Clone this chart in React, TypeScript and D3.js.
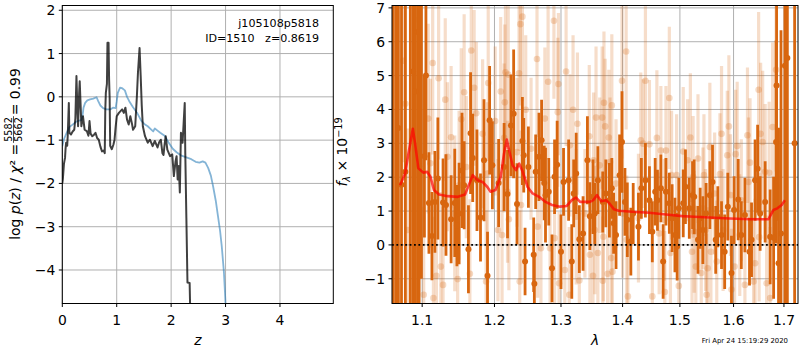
import React, { useEffect, useRef } from "react";
import * as d3 from "d3";

// ---- left panel: p(z) and chi2 curves ----
const pzZ = [0, 0.03, 0.08, 0.13, 0.2, 0.26, 0.31, 0.35, 0.37, 0.39, 0.42, 0.46, 0.51, 0.57, 0.63, 0.66, 0.7, 0.75, 0.81, 0.88, 0.93, 0.98, 1.0, 1.02, 1.06, 1.1, 1.15, 1.19, 1.23, 1.3, 1.38, 1.45, 1.52, 1.57, 1.62, 1.67, 1.7, 1.75, 1.8, 1.88, 1.95, 2.03, 2.1, 2.19, 2.28, 2.37, 2.45, 2.52, 2.58, 2.63, 2.68, 2.73, 2.77, 2.82, 2.86, 2.9, 2.93, 2.97, 3.0, 3.03];
const pzLog = [-1.14, -0.98, -0.83, -0.7, -0.63, -0.57, -0.55, -0.54, -0.45, -0.25, -0.14, -0.08, -0.06, -0.04, -0.01, -0.1, -0.2, -0.26, -0.29, -0.29, -0.25, -0.26, -0.1, 0.09, 0.21, 0.2, 0.15, 0.0, -0.1, -0.24, -0.38, -0.55, -0.64, -0.68, -0.74, -0.8, -0.73, -0.78, -0.83, -0.9, -1.05, -1.2, -1.28, -1.36, -1.4, -1.44, -1.5, -1.52, -1.49, -1.52, -1.64, -1.82, -2.06, -2.4, -2.75, -3.1, -3.45, -4.05, -4.78, -5.3];

const chiZ = [0, 0.01, 0.03, 0.05, 0.06, 0.07, 0.09, 0.1, 0.12, 0.13, 0.16, 0.19, 0.22, 0.24, 0.26, 0.28, 0.29, 0.31, 0.32, 0.34, 0.35, 0.38, 0.41, 0.45, 0.48, 0.5, 0.52, 0.55, 0.58, 0.61, 0.64, 0.67, 0.7, 0.73, 0.76, 0.78, 0.79, 0.8, 0.82, 0.83, 0.85, 0.86, 0.87, 0.88, 0.91, 0.94, 0.96, 0.98, 1.0, 1.04, 1.07, 1.1, 1.13, 1.16, 1.19, 1.22, 1.25, 1.28, 1.3, 1.34, 1.37, 1.39, 1.42, 1.44, 1.46, 1.48, 1.52, 1.57, 1.61, 1.66, 1.7, 1.75, 1.78, 1.81, 1.84, 1.86, 1.88, 1.9, 1.93, 1.98, 2.02, 2.05, 2.08, 2.1, 2.12, 2.14, 2.16, 2.18, 2.21, 2.23, 2.25, 2.26, 2.28, 2.3, 2.34, 2.36];
const chiLog = [-2.0, -1.9, -1.55, -1.41, -1.2, -1.06, -1.13, -0.9, -0.14, -0.83, -0.87, -0.8, -0.76, -0.5, 0.48, -0.4, -0.68, 0.1, 0.36, -0.3, -0.68, -0.45, -0.76, -0.79, -0.9, -0.56, -0.85, -0.91, -0.88, -0.83, -0.95, -0.99, -1.15, -1.26, -1.24, -1.3, -0.3, 0.09, 0.3, 1.25, 1.25, 0.4, -0.02, -1.13, -1.21, -1.1, -0.99, -0.7, -0.45, -0.37, -0.33, -0.29, -0.37, -0.25, -0.53, -0.64, -0.45, -0.62, -0.76, -0.68, 0.0, 0.55, 1.13, 0.5, -0.2, -0.68, -0.91, -1.06, -0.99, -1.14, -1.02, -1.17, -1.05, -0.99, -1.3, -1.34, -1.1, -0.91, -1.22, -1.37, -1.33, -1.83, -1.5, -1.37, -1.91, -1.6, -2.21, -0.83, -1.06, -0.6, -0.14, -1.3, -2.8, -4.29, -4.3, -5.5];

const zTicks = [0, 1, 2, 3, 4];
const logTicks = [-4, -3, -2, -1, 0, 1, 2];

// ---- right panel: spectrum ----
const darkWave = [1.0625, 1.066, 1.069, 1.073, 1.078, 1.0845, 1.088, 1.091, 1.094, 1.096, 1.099, 1.103, 1.105, 1.109, 1.113, 1.117, 1.121, 1.128, 1.132, 1.139, 1.144, 1.147, 1.15, 1.154, 1.157, 1.163, 1.166, 1.169, 1.175, 1.18, 1.185, 1.19, 1.193, 1.197, 1.206, 1.214, 1.219, 1.224, 1.228, 1.233, 1.241, 1.243, 1.245, 1.25, 1.258, 1.259, 1.261, 1.266, 1.27, 1.274, 1.276, 1.281, 1.286, 1.29, 1.294, 1.3, 1.304, 1.312, 1.317, 1.32, 1.324, 1.329, 1.335, 1.342, 1.346, 1.351, 1.354, 1.359, 1.367, 1.372, 1.378, 1.382, 1.385, 1.389, 1.395, 1.399, 1.404, 1.408, 1.414, 1.418, 1.427, 1.432, 1.439, 1.446, 1.451, 1.456, 1.46, 1.466, 1.47, 1.475, 1.481, 1.486, 1.491, 1.495, 1.498, 1.506, 1.51, 1.517, 1.523, 1.526, 1.533, 1.537, 1.542, 1.548, 1.555, 1.56, 1.566, 1.57, 1.577, 1.583, 1.589, 1.596, 1.601, 1.609, 1.615, 1.622, 1.631, 1.635, 1.642, 1.647, 1.652, 1.662, 1.672, 1.679, 1.684, 1.685, 1.689, 1.694, 1.702, 1.707, 1.722];
const darkFlux = [7.5, -2.5, 3.45, 1.78, 2.16, 8.2, 5.12, 4.53, 6.29, 2.32, 9.0, 2.62, 5.0, 1.24, 0.26, 1.27, 1.96, 1.25, 1.18, 0.76, 1.24, 0.57, 0.93, 2.2, 1.76, -0.13, 3.3, 2.57, 1.91, 0.81, 2.5, -0.91, 3.68, 2.35, 1.83, 2.3, 1.5, 3.53, 3.87, 1.21, 3.07, 2.65, -0.49, 2.3, -0.29, -1.15, 2.16, 2.6, 3.09, 1.83, 1.47, 1.57, -0.69, 2.01, 2.37, -0.2, 1.86, 1.91, -0.49, 1.52, 2.11, 0.17, 0.34, 2.5, 0.85, 1.42, 0.93, 1.91, 1.27, 1.52, 1.32, 1.67, 0.64, 0.29, 2.06, 3.04, 1.27, 0.74, 0.1, 0.93, 0.54, 1.67, 1.91, 1.32, 0.39, 1.57, 1.32, 1.67, -0.49, 1.57, 1.23, 0.79, 0.29, -0.05, 1.08, 1.23, 1.72, 1.08, 1.47, 1.42, 0.15, 0.79, 0.44, 0.93, 1.47, 1.86, 0.15, 0.83, 0.29, -0.2, 1.13, -0.83, 1.03, 1.34, 0.29, 0.88, -0.2, 0.15, 1.91, 2.25, 0.93, 1.27, 0.24, 0.21, 3.04, 4.71, -0.54, 0.34, 5.29, 5.52, 3.0];
const darkErr = [12, 10, 9, 9, 9, 12, 9, 9, 9, 6,
    10, 2.4, 2.5, 1.5, 1.3, 1.5, 1.8, 1.3, 1.5, 1.3,
    1.6, 1.2, 1.5, 1.7, 1.3, 1.3, 1.8, 1.3, 1.5, 1.3,
    1.8, 1.3, 1.6, 1.3, 1.3, 1.3, 1.3, 1.5, 1.9, 1.2,
    1.3, 1.1, 1.0, 1.2, 1.1, 0.9, 1.1, 1.3, 1.2, 1.1,
    1.4, 1.0, 1.0, 1.1, 1.3, 1.1, 1.0, 1.2, 1.1, 1.0,
    1.2, 1.0, 1.1, 1.3, 1.0, 1.1, 0.9, 1.0, 0.9, 1.0,
    1.1, 0.9, 0.9, 1.0, 1.2, 1.5, 1.0, 1.1, 1.0, 0.9,
    1.0, 0.9, 1.1, 1.0, 0.9, 1.0, 0.9, 1.0, 1.1, 1.0,
    0.9, 1.0, 1.1, 1.0, 0.9, 1.0, 1.1, 0.9, 1.0, 1.1,
    1.0, 0.9, 1.0, 0.9, 1.0, 1.1, 1.0, 0.9, 1.0, 1.1,
    1.0, 1.1, 1.0, 1.2, 1.0, 1.1, 1.0, 1.1, 1.2, 1.3,
    1.1, 1.2, 1.4, 1.8, 3.0, 4.0, 4.0, 6.0, 9, 9,
    9];

const lightWave = [1.075, 1.078, 1.081, 1.095, 1.102, 1.108, 1.111, 1.114, 1.115, 1.119, 1.122, 1.125, 1.128, 1.131, 1.134, 1.139, 1.144, 1.148, 1.15, 1.153, 1.157, 1.16, 1.165, 1.167, 1.171, 1.174, 1.183, 1.188, 1.19, 1.191, 1.201, 1.205, 1.209, 1.211, 1.214, 1.215, 1.216, 1.219, 1.22, 1.221, 1.233, 1.236, 1.237, 1.238, 1.239, 1.241, 1.246, 1.254, 1.263, 1.264, 1.269, 1.275, 1.28, 1.283, 1.289, 1.29, 1.295, 1.296, 1.297, 1.306, 1.308, 1.313, 1.314, 1.319, 1.324, 1.326, 1.329, 1.338, 1.345, 1.346, 1.351, 1.352, 1.354, 1.356, 1.359, 1.362, 1.366, 1.367, 1.368, 1.369, 1.371, 1.375, 1.377, 1.379, 1.381, 1.382, 1.383, 1.389, 1.399, 1.4, 1.406, 1.407, 1.409, 1.427, 1.431, 1.435, 1.439, 1.446, 1.451, 1.459, 1.463, 1.466, 1.472, 1.473, 1.475, 1.481, 1.483, 1.485, 1.494, 1.498, 1.506, 1.514, 1.519, 1.522, 1.524, 1.526, 1.529, 1.533, 1.539, 1.542, 1.544, 1.547, 1.549, 1.551, 1.555, 1.557, 1.564, 1.568, 1.574, 1.577, 1.58, 1.588, 1.591, 1.594, 1.596, 1.602, 1.604, 1.607, 1.612, 1.615, 1.622, 1.627, 1.629, 1.632, 1.639, 1.642, 1.649, 1.65, 1.653, 1.657, 1.662, 1.665, 1.67, 1.672, 1.677, 1.684];
const lightFlux = [5.44, 4.17, 0.44, 6.65, -1.47, 3.73, 2.41, 5.37, -1.57, -0.91, 4.92, -0.64, -1.18, 4.29, 2.6, 3.18, 0.93, -1.01, 1.76, 3.71, 4.51, 2.3, -0.85, 5.74, 4.64, 3.89, 3.28, -1.08, 2.11, 4.78, 3.66, 0.44, 4.53, 0.29, 3.16, 4.21, 5.1, 1.57, 5.03, 0.76, 2.74, 5.07, -1.08, 6.52, 1.18, 6.74, 3.99, 2.84, 5.49, 0.54, -0.1, 3.73, 4.82, -0.1, 6.62, 0.2, 3.92, 4.75, -1.13, -0.74, 5.12, -1.47, 2.94, 3.99, 0.83, 3.58, -1.05, 0.93, 3.21, -0.29, -0.91, 2.5, 0.44, 3.76, -0.24, 2.35, 3.76, -1.06, 0.24, 4.2, 3.5, -0.85, 3.17, 2.45, -0.39, 4.12, -0.79, 1.81, 4.85, 0.93, 5.71, 0.15, -1.52, 0.79, 3.09, 2.99, 4.85, 2.97, -1.52, 3.16, 0.34, 2.79, 0.74, -1.39, 2.79, 4.34, -0.24, 2.06, 2.06, -1.21, 2.76, 2.5, 3.17, -0.2, 2.01, 0.39, -0.64, 2.55, -0.83, 1.08, 2.06, 0.44, -1.47, -0.69, 2.89, -0.2, 1.52, -0.49, 2.09, 3.28, 0.44, 2.65, 3.5, 1.47, -1.32, -0.64, 2.68, 2.92, 0.29, 1.32, -1.18, 3.24, 1.86, 2.43, -1.08, -0.54, 4.58, 0.23, 3.28, 3.04, 2.16, -1.13, 2.13, -1.57, 3.48, 5.17];
const lightErr = [3.0, 3.2, 3.0, 3.0, 2.6, 2.8, 2.5, 2.7, 2.4, 2.5, 2.4, 2.2, 2.3, 2.4, 2.2, 2.1, 2.3, 2.1, 2.2, 2.1, 2.3, 2.1, 2.2, 2.1, 2.3, 2.1, 2.2, 2.1, 2.1, 2.3, 2.2, 2.1, 2.2, 2.1, 2.2, 2.3, 2.2, 2.1, 2.2, 2.1, 2.2, 2.3, 2.1, 2.4, 2.2, 2.5, 2.2, 2.1, 2.3, 2.1, 2.2, 2.1, 2.3, 2.1, 2.3, 2.1, 2.2, 2.1, 2.1, 2.0, 2.2, 2.0, 2.1, 2.2, 2.0, 2.1, 2.0, 1.9, 2.1, 1.9, 1.9, 2.0, 1.9, 2.1, 1.9, 2.0, 2.1, 1.9, 1.9, 2.1, 2.0, 1.9, 2.0, 1.9, 1.9, 2.1, 1.8, 1.9, 2.3, 1.9, 2.3, 1.9, 1.8, 1.9, 2.0, 1.9, 2.2, 1.9, 1.8, 2.0, 1.8, 1.9, 1.8, 1.8, 1.9, 2.1, 1.8, 1.9, 1.8, 1.8, 1.9, 1.8, 1.9, 1.8, 1.8, 1.8, 1.8, 1.9, 1.8, 1.8, 1.8, 1.8, 1.8, 1.8, 1.9, 1.8, 1.8, 1.8, 1.8, 2.0, 1.8, 1.9, 2.1, 1.8, 1.8, 1.8, 1.9, 1.9, 1.8, 1.8, 1.9, 2.0, 1.9, 1.9, 1.9, 1.9, 2.3, 1.9, 2.1, 2.1, 2.0, 2.0, 2.1, 2.1, 2.5, 3.0];

const modelWave = [1.0712, 1.0777, 1.082, 1.0877, 1.0907, 1.095, 1.1018, 1.1065, 1.1111, 1.1157, 1.1226, 1.1343, 1.1482, 1.1583, 1.1643, 1.169, 1.1759, 1.1829, 1.1898, 1.1944, 1.2015, 1.209, 1.2139, 1.2179, 1.2214, 1.2264, 1.2314, 1.2363, 1.2414, 1.2488, 1.2563, 1.2662, 1.2761, 1.2861, 1.2985, 1.309, 1.317, 1.3238, 1.3302, 1.3381, 1.346, 1.3513, 1.3576, 1.3646, 1.3725, 1.3778, 1.3857, 1.3936, 1.4163, 1.4456, 1.4749, 1.5043, 1.5264, 1.5547, 1.5925, 1.632, 1.6686, 1.6786, 1.6866, 1.6954, 1.702];
const modelFlux = [1.76, 2.11, 2.7, 3.43, 2.99, 2.26, 2.13, 2.16, 2.01, 1.62, 1.49, 1.44, 1.42, 1.49, 1.81, 2.06, 1.91, 1.86, 1.71, 1.57, 1.62, 2.01, 2.7, 3.11, 2.79, 2.35, 2.21, 2.4, 2.16, 1.71, 1.52, 1.42, 1.27, 1.18, 1.13, 1.15, 1.32, 1.4, 1.27, 1.27, 1.27, 1.32, 1.47, 1.29, 1.32, 1.23, 1.05, 1.01, 0.98, 0.95, 0.9, 0.85, 0.83, 0.81, 0.78, 0.76, 0.76, 1.03, 1.08, 1.18, 1.32];

const waveTicks = [1.1, 1.2, 1.3, 1.4, 1.5, 1.6, 1.7];
const fluxTicks = [-1, 0, 1, 2, 3, 4, 5, 6, 7];

const FONT = "DejaVu Sans, sans-serif";
const ORANGE = "#d8660f";
const fmt = (t: number) => (t < 0 ? "\u2212" + Math.abs(t) : String(t));

function axesFrame(g: any, x: any, y: any, xt: number[], yt: number[], box: any) {
    g.append("g").selectAll("line").data(xt).join("line")
        .attr("x1", (d: number) => x(d)).attr("x2", (d: number) => x(d))
        .attr("y1", box.y0).attr("y2", box.y1)
        .attr("stroke", "#b0b0b0").attr("stroke-width", 1);
    g.append("g").selectAll("line").data(yt).join("line")
        .attr("x1", box.x0).attr("x2", box.x1)
        .attr("y1", (d: number) => y(d)).attr("y2", (d: number) => y(d))
        .attr("stroke", "#b0b0b0").attr("stroke-width", 1);
}

function axesDecor(g: any, x: any, y: any, xt: number[], yt: number[], xf: (t: number) => string, box: any) {
    g.append("rect").attr("x", box.x0).attr("y", box.y0)
        .attr("width", box.x1 - box.x0).attr("height", box.y1 - box.y0)
        .attr("fill", "none").attr("stroke", "black").attr("stroke-width", 1);
    const bt = g.append("g");
    xt.forEach((t) => {
        bt.append("line").attr("x1", x(t)).attr("x2", x(t)).attr("y1", box.y1).attr("y2", box.y1 + 3.5)
            .attr("stroke", "black").attr("stroke-width", 1);
        bt.append("text").attr("x", x(t)).attr("y", box.y1 + 21.5).attr("text-anchor", "middle")
            .attr("font-family", FONT).attr("font-size", 13.9).text(xf(t));
    });
    yt.forEach((t) => {
        bt.append("line").attr("x1", box.x0 - 3.5).attr("x2", box.x0).attr("y1", y(t)).attr("y2", y(t))
            .attr("stroke", "black").attr("stroke-width", 1);
        bt.append("text").attr("x", box.x0 - 7).attr("y", y(t) + 5).attr("text-anchor", "end")
            .attr("font-family", FONT).attr("font-size", 13.9).text(fmt(t));
    });
}

function draw(node: SVGSVGElement) {
    const svg = d3.select(node);
    svg.selectAll("*").remove();
    svg.append("rect").attr("width", 800).attr("height", 350).attr("fill", "white");

    const defs = svg.append("defs");
    const L = { x0: 62.3, x1: 333.3, y0: 5.5, y1: 303.5 };
    const R = { x0: 392, x1: 798, y0: 5.5, y1: 303.5 };
    defs.append("clipPath").attr("id", "clipL").append("rect")
        .attr("x", L.x0).attr("y", L.y0).attr("width", L.x1 - L.x0).attr("height", L.y1 - L.y0);
    defs.append("clipPath").attr("id", "clipR").append("rect")
        .attr("x", R.x0).attr("y", R.y0).attr("width", R.x1 - R.x0).attr("height", R.y1 - R.y0);

    // left panel
    const xz = d3.scaleLinear().domain([0, 4.98]).range([L.x0, L.x1]);
    const yl = d3.scaleLinear().domain([-4.774, 2.11]).range([L.y1, L.y0]);
    const gl = svg.append("g");
    axesFrame(gl, xz, yl, zTicks, logTicks, L);
    const line = d3.line<[number, number]>().x((d) => xz(d[0])).y((d) => yl(d[1]));
    const pl = gl.append("g").attr("clip-path", "url(#clipL)");
    pl.append("path").attr("d", line(pzZ.map((z, i) => [z, pzLog[i]]) as any))
        .attr("fill", "none").attr("stroke", "#1f77b4").attr("stroke-opacity", 0.55)
        .attr("stroke-width", 1.8).attr("stroke-linejoin", "round");
    pl.append("path").attr("d", line(chiZ.map((z, i) => [z, chiLog[i]]) as any))
        .attr("fill", "none").attr("stroke", "black").attr("stroke-opacity", 0.75)
        .attr("stroke-width", 2).attr("stroke-linejoin", "round");
    axesDecor(gl, xz, yl, zTicks, logTicks, String, L);

    const ann = gl.append("g").attr("font-family", FONT).attr("font-size", 11.1)
        .attr("text-anchor", "end");
    ann.append("text").attr("x", 319).attr("y", 26.5).text("j105108p5818");
    ann.append("text").attr("x", 319).attr("y", 41.5).text("ID=1510\u00a0\u00a0\u00a0z=0.8619");

    // right panel
    const xw = d3.scaleLog().domain([1.0608, 1.729]).range([R.x0, R.x1]);
    const yf = d3.scaleLinear().domain([-1.73, 7.07]).range([R.y1, R.y0]);
    const gr = svg.append("g");
    axesFrame(gr, xw, yf, waveTicks, fluxTicks, R);
    const pr = gr.append("g").attr("clip-path", "url(#clipR)");

    const light = lightWave.map((w, i) => ({ w, f: lightFlux[i], e: lightErr[i] }));
    const dark = darkWave.map((w, i) => ({ w, f: darkFlux[i], e: darkErr[i] }));

    pr.append("g").selectAll("line").data(light).join("line")
        .attr("x1", (d) => xw(d.w)).attr("x2", (d) => xw(d.w))
        .attr("y1", (d) => yf(d.f - d.e)).attr("y2", (d) => yf(d.f + d.e))
        .attr("stroke", ORANGE).attr("stroke-opacity", 0.22).attr("stroke-width", 3.2);
    pr.append("g").selectAll("circle").data(light).join("circle")
        .attr("cx", (d) => xw(d.w)).attr("cy", (d) => yf(d.f)).attr("r", 3.3)
        .attr("fill", ORANGE).attr("fill-opacity", 0.25);

    pr.append("g").selectAll("line").data(dark).join("line")
        .attr("x1", (d) => xw(d.w)).attr("x2", (d) => xw(d.w))
        .attr("y1", (d) => yf(d.f - d.e)).attr("y2", (d) => yf(d.f + d.e))
        .attr("stroke", ORANGE).attr("stroke-width", 2.8);
    pr.append("g").selectAll("circle").data(dark).join("circle")
        .attr("cx", (d) => xw(d.w)).attr("cy", (d) => yf(d.f)).attr("r", 3)
        .attr("fill", ORANGE);

    const mline = d3.line<number>().x((d, i) => xw(modelWave[i])).y((d) => yf(d)).curve(d3.curveLinear);
    pr.append("path").attr("d", mline(modelFlux))
        .attr("fill", "none").attr("stroke", "red").attr("stroke-opacity", 0.7)
        .attr("stroke-width", 2.6).attr("stroke-linejoin", "round");

    pr.append("line").attr("x1", R.x0).attr("x2", R.x1).attr("y1", yf(0)).attr("y2", yf(0))
        .attr("stroke", "black").attr("stroke-width", 1.8).attr("stroke-dasharray", "1.8,2.6");

    axesDecor(gr, xw, yf, waveTicks, fluxTicks, (t) => t.toFixed(1), R);

    // axis labels
    svg.append("text").attr("x", (L.x0 + L.x1) / 2).attr("y", 345).attr("text-anchor", "middle")
        .attr("font-family", FONT).attr("font-size", 13.9).attr("font-style", "italic").text("z");
    svg.append("text").attr("x", (R.x0 + R.x1) / 2).attr("y", 345).attr("text-anchor", "middle")
        .attr("font-family", FONT).attr("font-size", 13.9).attr("font-style", "italic").text("\u03bb");

    // left y label with fraction
    const yl0 = svg.append("g").attr("transform", "translate(20,154) rotate(-90)")
        .attr("font-family", FONT).attr("font-size", 13.9).style("white-space", "pre");
    const inner = yl0.append("g");
    const t1 = inner.append("text").attr("x", 0).attr("y", 0);
    t1.append("tspan").text("log ");
    t1.append("tspan").attr("font-style", "italic").text("p");
    t1.append("tspan").text("(");
    t1.append("tspan").attr("font-style", "italic").text("z");
    t1.append("tspan").text(") / ");
    t1.append("tspan").attr("font-style", "italic").text("\u03c7");
    t1.append("tspan").text("\u00b2 = ");
    const w1 = (t1.node() as SVGTextElement).getComputedTextLength();
    const num = inner.append("text").attr("y", -8.5).attr("font-size", 9.7).attr("text-anchor", "middle").text("5582");
    const den = inner.append("text").attr("y", 1.5).attr("font-size", 9.7).attr("text-anchor", "middle").text("5662");
    const fw = Math.max((num.node() as SVGTextElement).getComputedTextLength(), (den.node() as SVGTextElement).getComputedTextLength()) + 2;
    num.attr("x", w1 + 1 + fw / 2);
    den.attr("x", w1 + 1 + fw / 2);
    inner.append("line").attr("x1", w1 + 1).attr("x2", w1 + 1 + fw).attr("y1", -6.5).attr("y2", -6.5)
        .attr("stroke", "black").attr("stroke-width", 0.7);
    const t3 = inner.append("text").attr("x", w1 + fw + 2).attr("y", 0).text(" = 0.99");
    const w3 = (t3.node() as SVGTextElement).getComputedTextLength();
    inner.attr("transform", `translate(${-(w1 + fw + 2 + w3) / 2},0)`);

    // right y label
    const yr = svg.append("text").attr("transform", "translate(347,152) rotate(-90)")
        .attr("text-anchor", "middle").attr("font-family", FONT).attr("font-size", 13.9);
    yr.append("tspan").attr("font-style", "italic").text("f");
    yr.append("tspan").attr("font-style", "italic").attr("font-size", 9.7).attr("dy", 3).text("\u03bb");
    yr.append("tspan").attr("dy", -3).text(" \u00d7 10");
    yr.append("tspan").attr("font-size", 9.7).attr("dy", -5.5).text("\u221219");

    svg.append("text").attr("x", 788).attr("y", 343).attr("text-anchor", "end")
        .attr("font-family", FONT).attr("font-size", 6.9).text("Fri Apr 24 15:19:29 2020");
}

export default function App() {
    const ref = useRef<SVGSVGElement>(null);
    useEffect(() => {
        if (ref.current) draw(ref.current);
    }, []);
    return (
        <svg ref={ref} width={800} height={350}
            style={{ position: "absolute", left: 0, top: 0, display: "block" }} />
    );
}
